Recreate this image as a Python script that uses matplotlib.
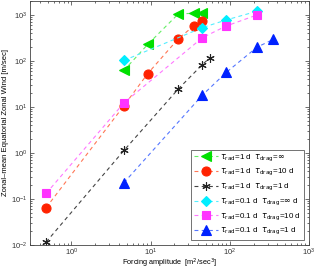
import matplotlib
matplotlib.use("Agg")
import matplotlib.pyplot as plt
import numpy as np

plt.rcParams['font.family'] = ['Liberation Sans', 'DejaVu Sans']
plt.rcParams['mathtext.fontset'] = 'dejavusans'

# Data
x_green = [4.6, 9.2, 22.4, 35, 45]
y_green = [62, 228, 1050, 1080, 1080]
x_red = [0.48, 4.6, 9.2, 22.4, 35.5, 45]
y_red = [0.065, 10.6, 53, 303, 587, 751]
x_black = [0.48, 4.6, 22.4, 45, 56]
y_black = [0.0116, 1.13, 24.6, 83, 117]
x_cyan = [4.6, 45, 90, 221]
y_cyan = [102, 528, 774, 1199]
x_mag = [0.48, 4.6, 45, 90, 221]
y_mag = [0.132, 12.2, 319, 572, 995]
x_blue = [4.6, 45, 90, 221, 355]
y_blue = [0.225, 18, 56, 199, 293]

labels = [
    r'$\tau_{\rm rad}$=1 d  $\tau_{\rm drag}$=$\infty$',
    r'$\tau_{\rm rad}$=1 d  $\tau_{\rm drag}$=10 d',
    r'$\tau_{\rm rad}$=1 d  $\tau_{\rm drag}$=1 d',
    r'$\tau_{\rm rad}$=0.1 d  $\tau_{\rm drag}$=$\infty$ d',
    r'$\tau_{\rm rad}$=0.1 d  $\tau_{\rm drag}$=10 d',
    r'$\tau_{\rm rad}$=0.1 d  $\tau_{\rm drag}$=1 d',
]

series = [
    (x_green, y_green, '<', '#00e000', '#66ee66', 7),
    (x_red, y_red, 'o', '#ff2200', '#ff7755', 6.5),
    (x_black, y_black, (6, 2, 0), '#222222', '#444444', 6),
    (x_cyan, y_cyan, 'D', '#00eeff', '#55eeff', 5),
    (x_mag, y_mag, 's', '#ff33ff', '#ff77ff', 5.5),
    (x_blue, y_blue, '^', '#0022ff', '#5577ff', 7),
]

fig = plt.figure(figsize=(3.16, 2.73), dpi=100)
ax = fig.add_axes([30/316, 28/273, 279/316, 244/273])

for (xs, ys, m, mc, lc, ms), lab in zip(series, labels):
    ax.plot(xs, ys, linestyle=(0, (3.5, 3)), color=lc, lw=0.8,
            marker=m, markersize=ms, markerfacecolor=mc, markeredgecolor=mc,
            markeredgewidth=0.8, label=lab)

ax.set_xscale('log')
ax.set_yscale('log')
ax.set_xlim(0.3, 1000)
ax.set_ylim(0.01, 2000)
ax.set_xticks([1, 10, 100, 1000])
ax.set_yticks([0.01, 0.1, 1, 10, 100, 1000])
ax.tick_params(which='both', direction='in', top=True, right=True,
               labelsize=5.5, colors='#333333', width=0.5, pad=2)
ax.tick_params(axis='x', which='both', pad=1.0)
ax.tick_params(which='major', length=3)
ax.tick_params(which='minor', length=1.5)
for s in ax.spines.values():
    s.set_linewidth(0.6)
    s.set_color('#444444')

ax.set_xlabel(r'Forcing amplitude  [m$^2$/sec$^3$]', fontsize=5.3)
ax.xaxis.set_label_coords(0.5, -0.05)
ax.set_ylabel('Zonal\u2013mean Equatorial Zonal Wind [m/sec]', fontsize=5.5, labelpad=1)

leg = ax.legend(loc='lower right', fontsize=5.8, frameon=True, fancybox=False,
                edgecolor='#333333', handlelength=3, handletextpad=0.3,
                labelspacing=0.45, borderpad=0.35, borderaxespad=0.6)
leg.get_frame().set_linewidth(0.6)

fig.savefig('out.png', dpi=100)
